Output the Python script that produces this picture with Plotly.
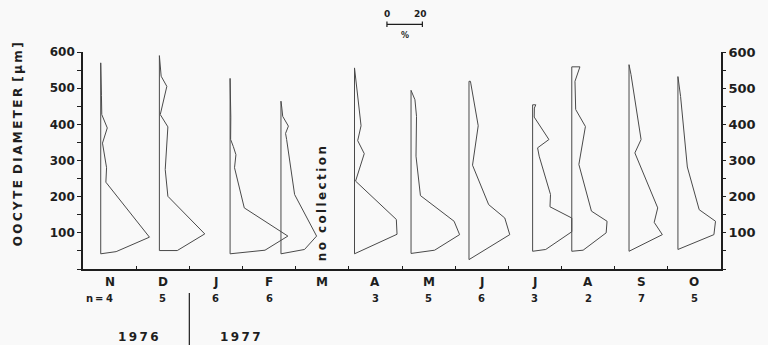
import plotly.graph_objects as go

# ---------------- data ----------------
MONTHS = ["N", "D", "J", "F", "M", "A", "M", "J", "J", "A", "S", "O"]
N_FEMALES = ["4", "5", "6", "6", "", "3", "5", "6", "3", "2", "7", "5"]
YEAR_LABELS = ["1976", "1977"]
YEAR_BREAK = 2            # boundary index between Dec and Jan
NO_COLLECTION = 4         # March
SLOT = 30                 # percent units per month slot
SCALE_BAR_PCT = 20

# baseline (zero-percent line) of each month's polygon, in axis units
BASELINE = [10.0, 43.1, 83.0, 111.7, None, 153.2, 185.1, 217.8, 253.7, 275.8, 308.1, 335.7]

NOV_DIAM = [42, 48, 88, 240, 280, 348, 390, 427, 480, 530, 570]
NOV_PCT = [0, 8.7, 27.5, 2.9, 3.3, 1.0, 3.7, 0.6, 0.4, 0.3, 0]

DEC_DIAM = [51, 51, 97, 201, 275, 393, 427, 505, 533, 560, 590]
DEC_PCT = [0, 10.1, 25.6, 4.8, 3.3, 4.8, 0.5, 4.2, 1.0, 0.4, 0]

JAN_DIAM = [42, 52, 91, 169, 280, 316, 339, 358, 420, 480, 527]
JAN_PCT = [0, 19.7, 32.6, 8.0, 2.5, 3.3, 1.8, 0.3, 0.4, 0.3, 0]

FEB_DIAM = [42, 54, 91, 206, 358, 375, 395, 422, 445, 464]
FEB_PCT = [0, 13.3, 20.1, 7.7, 3.2, 2.6, 4.2, 1.0, 0.5, 0]

APR_DIAM = [42, 96, 137, 243, 319, 355, 396, 480, 556]
APR_PCT = [0, 24.0, 23.6, 0.6, 5.5, 1.8, 3.7, 1.8, 0]

MAY_DIAM = [43, 52, 95, 132, 203, 261, 312, 422, 468, 494]
MAY_PCT = [0, 13.3, 27.4, 24.3, 5.3, 4.0, 2.8, 3.1, 2.2, 0]

JUN_DIAM = [26, 95, 141, 178, 287, 396, 514, 519, 519]
JUN_PCT = [0, 23.0, 20.2, 11.1, 2.0, 5.2, 1.0, 0.8, 0]

JUL_DIAM = [49, 54, 103, 141, 172, 206, 312, 335, 358, 420, 445, 454, 454]
JUL_PCT = [0, 7.4, 22.1, 22.1, 9.8, 10.1, 3.7, 2.8, 9.2, 0.9, 1.0, 1.8, 0]

AUG_DIAM = [49, 52, 100, 132, 160, 289, 394, 441, 519, 559, 559]
AUG_PCT = [0, 6.4, 19.4, 19.9, 11.1, 4.0, 7.7, 2.2, 1.8, 4.6, 0]

SEP_DIAM = [49, 95, 129, 169, 321, 358, 538, 565]
SEP_PCT = [0, 18.8, 14.2, 16.2, 3.3, 6.8, 1.1, 0]

OCT_DIAM = [54, 95, 132, 164, 282, 477, 532]
OCT_PCT = [0, 20.3, 21.2, 12.0, 5.3, 1.5, 0]

PROFILES = [
    (NOV_DIAM, NOV_PCT), (DEC_DIAM, DEC_PCT), (JAN_DIAM, JAN_PCT), (FEB_DIAM, FEB_PCT),
    None,
    (APR_DIAM, APR_PCT), (MAY_DIAM, MAY_PCT), (JUN_DIAM, JUN_PCT), (JUL_DIAM, JUL_PCT),
    (AUG_DIAM, AUG_PCT), (SEP_DIAM, SEP_PCT), (OCT_DIAM, OCT_PCT),
]

Y_TICKS = list(range(0, 601, 50))

# ---------------- layout geometry ----------------
W, H = 768, 345
ML, MR, MT, MB = 83, 34, 52, 76
PW, PH = W - ML - MR, H - MT - MB
FONT = "DejaVu Sans"
INK = "#1e1e1e"
LINE = "#4a4a4a"
BG = "#f9f9f9"


def py(p):  # pixel row -> paper y
    return (H - MB - p) / PH


def px(p):  # pixel column -> paper x
    return (p - ML) / PW


def spaced(s, sep="\u2009"):
    return sep.join(s)


fig = go.Figure()

for base, prof in zip(BASELINE, PROFILES):
    if prof is None:
        continue
    diam, pct = prof
    xs = [base + p for p in pct] + [base]
    ys = list(diam) + [diam[0]]
    fig.add_trace(go.Scatter(x=xs, y=ys, mode="lines",
                             line=dict(color=LINE, width=1.0),
                             hoverinfo="skip", showlegend=False))

# invisible trace to anchor the right axis
fig.add_trace(go.Scatter(x=[0], y=[0], yaxis="y2", mode="markers",
                         marker=dict(opacity=0), hoverinfo="skip", showlegend=False))

ticktext = ["<b>%d</b>" % v if (v % 100 == 0 and v > 0) else "" for v in Y_TICKS]

annotations = []
nm = len(MONTHS)
for i, (m, n) in enumerate(zip(MONTHS, N_FEMALES)):
    xc = SLOT * i + SLOT / 2
    annotations.append(dict(x=xc, y=py(282), xref="x", yref="paper", text="<b>%s</b>" % m,
                            showarrow=False, font=dict(family=FONT, size=12, color=INK),
                            xanchor="center", yanchor="middle"))
    if n:
        annotations.append(dict(x=xc, y=py(298), xref="x", yref="paper", text="<b>%s</b>" % n,
                                showarrow=False, font=dict(family=FONT, size=10, color=INK),
                                xanchor="center", yanchor="middle"))
annotations.append(dict(x=SLOT / 2, y=py(298), xref="x", yref="paper",
                        text="<b>n\u2009=\u2009</b>", showarrow=False,
                        font=dict(family=FONT, size=10, color=INK),
                        xanchor="right", yanchor="middle", xshift=-2))

# years
annotations.append(dict(x=YEAR_BREAK * SLOT, y=py(337), xref="x", yref="paper",
                        text="<b>%s</b>" % spaced(YEAR_LABELS[0]), showarrow=False,
                        font=dict(family=FONT, size=12, color=INK),
                        xanchor="center", yanchor="middle", xshift=-51))
annotations.append(dict(x=YEAR_BREAK * SLOT, y=py(337), xref="x", yref="paper",
                        text="<b>%s</b>" % spaced(YEAR_LABELS[1]), showarrow=False,
                        font=dict(family=FONT, size=12, color=INK),
                        xanchor="center", yanchor="middle", xshift=51))

# no collection
annotations.append(dict(x=NO_COLLECTION * SLOT + SLOT / 2, y=py(204), xref="x", yref="paper",
                        text="<b>%s</b>" % spaced("no collection"), textangle=-90,
                        showarrow=False, font=dict(family=FONT, size=12, color=INK),
                        xanchor="center", yanchor="middle"))

# y title
title = "\u2002".join(spaced(w) for w in ["OOCYTE", "DIAMETER", "[µm]"])
annotations.append(dict(x=px(17), y=py(144), xref="paper", yref="paper",
                        text="<b>%s</b>" % title, textangle=-90, showarrow=False,
                        font=dict(family=FONT, size=12, color=INK),
                        xanchor="center", yanchor="middle"))

# scale bar
SB_X0 = 171.5
annotations.append(dict(x=SB_X0, y=py(14), xref="x", yref="paper", text="<b>0</b>",
                        showarrow=False, font=dict(family=FONT, size=9, color=INK),
                        xanchor="center", yanchor="middle"))
annotations.append(dict(x=SB_X0 + SCALE_BAR_PCT, y=py(14), xref="x", yref="paper",
                        text="<b>%d</b>" % SCALE_BAR_PCT, showarrow=False,
                        font=dict(family=FONT, size=9, color=INK),
                        xanchor="center", yanchor="middle", xshift=-2))
annotations.append(dict(x=SB_X0 + SCALE_BAR_PCT / 2, y=py(35), xref="x", yref="paper",
                        text="<b>%</b>", showarrow=False,
                        font=dict(family=FONT, size=8, color=INK),
                        xanchor="center", yanchor="middle"))

shapes = [
    dict(type="line", xref="x", yref="paper", x0=SB_X0, x1=SB_X0 + SCALE_BAR_PCT,
         y0=py(24.3), y1=py(24.3), line=dict(color=INK, width=1.3)),
    dict(type="line", xref="x", yref="paper", x0=SB_X0, x1=SB_X0,
         y0=py(21.5), y1=py(27), line=dict(color=INK, width=1.2)),
    dict(type="line", xref="x", yref="paper", x0=SB_X0 + SCALE_BAR_PCT, x1=SB_X0 + SCALE_BAR_PCT,
         y0=py(21.5), y1=py(27), line=dict(color=INK, width=1.2)),
    dict(type="line", xref="x", yref="paper", x0=YEAR_BREAK * SLOT, x1=YEAR_BREAK * SLOT,
         y0=py(293), y1=py(345), line=dict(color=INK, width=1.2)),
]

fig.update_layout(
    width=W, height=H,
    margin=dict(l=ML, r=MR, t=MT, b=MB),
    paper_bgcolor=BG, plot_bgcolor=BG,
    showlegend=False, hovermode=False,
    xaxis=dict(range=[0, SLOT * nm], tickvals=[SLOT * i for i in range(nm + 1)],
               showticklabels=False, ticks="inside", ticklen=3, tickcolor=INK,
               showline=True, linecolor=INK, linewidth=1.6, showgrid=False, zeroline=False,
               fixedrange=True),
    yaxis=dict(range=[0, 600], tickvals=Y_TICKS, ticktext=ticktext, ticks="outside",
               ticklen=4, tickcolor=INK, tickwidth=1.2,
               tickfont=dict(family=FONT, size=12, color=INK),
               showline=True, linecolor=INK, linewidth=1.6, showgrid=False, zeroline=False,
               fixedrange=True),
    yaxis2=dict(range=[0, 600], overlaying="y", side="right", tickvals=Y_TICKS,
                ticktext=ticktext, ticks="outside", ticklen=3, tickcolor=INK, tickwidth=1.2,
                tickfont=dict(family=FONT, size=13, color=INK),
                showline=True, linecolor=INK, linewidth=1.6, showgrid=False, zeroline=False,
                fixedrange=True),
    annotations=annotations,
    shapes=shapes,
)

fig.write_html("out.html")
